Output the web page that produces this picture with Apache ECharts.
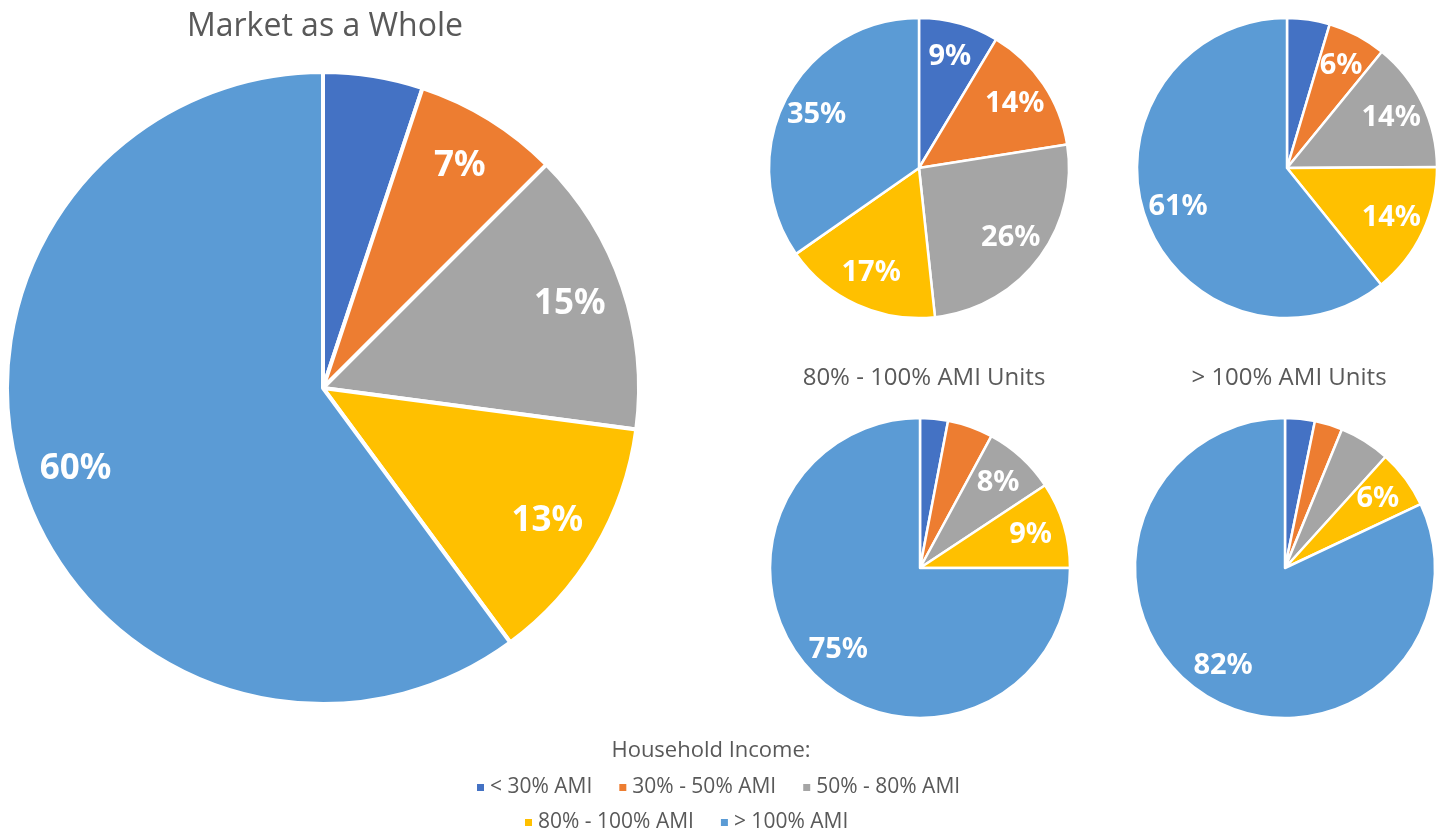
<!DOCTYPE html>
<html>
<head>
<meta charset="utf-8">
<script src="https://cdn.jsdelivr.net/npm/echarts@6/dist/echarts.min.js"></script>
<style>
html,body{margin:0;padding:0;background:#fff;}
#chart{width:1443px;height:829px;}
</style>
</head>
<body>
<div id="chart"></div>
<script>
const categories = ['< 30% AMI', '30% - 50% AMI', '50% - 80% AMI', '80% - 100% AMI', '> 100% AMI'];
const colors = ['#4472C4', '#ED7D31', '#A5A5A5', '#FFC000', '#5B9BD5'];
const marketValues = [5.1, 7.4, 14.6, 12.8, 60.1];
const topLeftValues = [8.6, 13.9, 25.8, 17.0, 34.7];
const topRightValues = [4.6, 6.3, 14.0, 14.3, 60.8];
const ami80to100Values = [3.0, 4.9, 7.8, 9.3, 75.0];
const amiOver100Values = [3.2, 3.0, 5.5, 6.3, 82.0];
const pieTitles = ['Market as a Whole', '', '', '80% - 100% AMI Units', '> 100% AMI Units'];
const legendTitle = 'Household Income:';

const FONT = '"Open Sans", "Noto Sans", sans-serif';
const LABEL_FONT = '"Noto Sans", "Open Sans", sans-serif';

function mkData(vals) {
  return vals.map((v, i) => ({ name: categories[i], value: v, itemStyle: { color: colors[i] } }));
}

function pieSeries(vals, center, radius, borderW, labelSize, innerFrac) {
  const data = mkData(vals);
  return [
    {
      type: 'pie', center: center, radius: radius, startAngle: 90, clockwise: true,
      silent: true, animation: false,
      itemStyle: { borderColor: '#ffffff', borderWidth: borderW },
      label: { show: false }, labelLine: { show: false },
      data: data
    },
    {
      type: 'pie', center: center, radius: [radius * innerFrac, radius], startAngle: 90, clockwise: true,
      silent: true, animation: false, legendHoverLink: false,
      itemStyle: { color: 'rgba(0,0,0,0)', borderWidth: 0 },
      emphasis: { disabled: true },
      label: {
        show: true, position: 'inside', color: '#ffffff', fontFamily: LABEL_FONT,
        fontWeight: 'bold', fontSize: labelSize,
        formatter: p => (p.percent >= 5.8 ? Math.round(p.percent) + '%' : '')
      },
      labelLine: { show: false },
      data: vals.map((v, i) => ({ name: categories[i], value: v, itemStyle: { color: 'rgba(0,0,0,0)' } }))
    }
  ];
}

const series = [].concat(
  pieSeries(marketValues, [323, 388], 316, 4, 35, 0.63),
  pieSeries(topLeftValues, [919, 168], 150, 2.5, 29, 0.5),
  pieSeries(topRightValues, [1287, 168], 150, 2.5, 29, 0.5),
  pieSeries(ami80to100Values, [920, 568], 150, 2.5, 29, 0.5),
  pieSeries(amiOver100Values, [1285, 568], 150, 2.5, 29, 0.5)
);

const titleStyle = { color: '#595959', fontFamily: FONT, fontWeight: 'normal' };
const legendText = { color: '#595959', fontFamily: FONT, fontSize: 21 };

const option = {
  backgroundColor: '#ffffff',
  animation: false,
  title: [
    { text: pieTitles[0], left: 320, top: 6, textAlign: 'center', textStyle: Object.assign({}, titleStyle, { fontSize: 32 }) },
    { text: pieTitles[3], left: 919, top: 361, textAlign: 'center', textStyle: Object.assign({}, titleStyle, { fontSize: 24 }) },
    { text: pieTitles[4], left: 1284, top: 361, textAlign: 'center', textStyle: Object.assign({}, titleStyle, { fontSize: 24 }) },
    { text: legendTitle, left: 706, top: 735, textAlign: 'center', textStyle: Object.assign({}, titleStyle, { fontSize: 22 }) }
  ],
  legend: [
    {
      data: categories.slice(0, 3), left: 470, top: 772, icon: 'rect', itemWidth: 9, itemHeight: 9,
      itemGap: 25, textGap: 8, textStyle: legendText, selectedMode: false
    },
    {
      data: categories.slice(3), left: 518, top: 807, icon: 'rect', itemWidth: 9, itemHeight: 9,
      itemGap: 25, textGap: 8, textStyle: legendText, selectedMode: false
    }
  ],
  series: series
};

const chart = echarts.init(document.getElementById('chart'), null, { renderer: 'canvas' });
chart.setOption(option);
</script>
</body>
</html>
